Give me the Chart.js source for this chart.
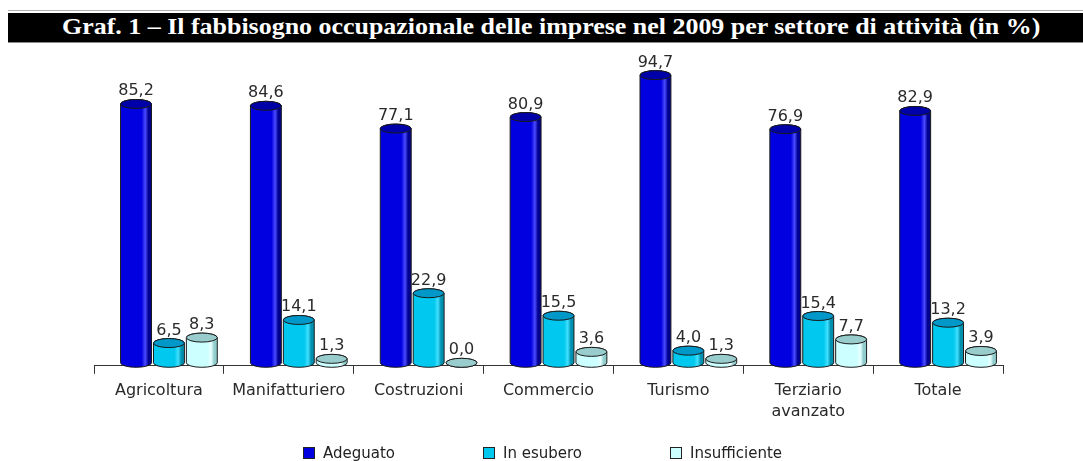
<!DOCTYPE html>
<html>
<head>
<meta charset="utf-8">
<script src="https://cdn.jsdelivr.net/npm/chart.js@4"></script>
<style>
    body { margin: 0; background: #fff; }
    #wrap { position: relative; width: 1083px; height: 461px; overflow: hidden; }
    #titleLine { position: absolute; left: 8px; top: 10px; width: 1080px; height: 1px; background: #b0b0b0; }
    #titleBar { position: absolute; left: 8px; top: 13px; width: 1080px; height: 29px; background: #000; border-bottom: 1px solid #888; }
    #titleText { position: absolute; left: 54px; top: 0px; color: #fff; font: bold 24px 'Liberation Serif'; white-space: nowrap; transform-origin: left center; }
    #legend { position: absolute; left: 303px; top: 444px; display: flex; gap: 88px; font: 15px 'DejaVu Sans'; color: #222; }
    #legend span.box { display: inline-block; width: 10px; height: 10px; border: 1px solid #222; margin-right: 8px; vertical-align: -1px; }
</style>
</head>
<body>
<div id="wrap">
    <canvas id="fabbChart" width="1083" height="461"></canvas>
    <div id="titleLine"></div>
    <div id="titleBar"><span id="titleText">Graf. 1 – Il fabbisogno occupazionale delle imprese nel 2009 per settore di attività (in %)</span></div>
    <div id="legend"></div>
</div>
<script>
const settori = ['Agricoltura', 'Manifatturiero', 'Costruzioni', 'Commercio', 'Turismo', ['Terziario', 'avanzato'], 'Totale'];
const adeguato = [85.2, 84.6, 77.1, 80.9, 94.7, 76.9, 82.9];
const inEsubero = [6.5, 14.1, 22.9, 15.5, 4.0, 15.4, 13.2];
const insufficiente = [8.3, 1.3, 0.0, 3.6, 1.3, 7.7, 3.9];
const serieNomi = ['Adeguato', 'In esubero', 'Insufficiente'];

// colori dei cilindri: corpo, riflesso, bordo scuro, coperchio
const tinte = [
    { body: '#0000e0', light: '#4a4aff', dark: '#000090', top: '#0000a8' },
    { body: '#00c8ee', light: '#40e0ff', dark: '#0090b0', top: '#0098c8' },
    { body: '#ccffff', light: '#e8ffff', dark: '#90cccc', top: '#99cccc' }
];

document.addEventListener('DOMContentLoaded', () => {

    // titolo compresso alla larghezza del riquadro
    const tt = document.getElementById('titleText');
    tt.style.transform = 'scaleX(' + (978 / tt.offsetWidth) + ')';

    const legend = document.getElementById('legend');
    serieNomi.forEach((n, i) => {
        const d = document.createElement('div');
        d.innerHTML = '<span class="box" style="background:' + tinte[i].body + '"></span>' + n;
        legend.appendChild(d);
    });

    const DX = 10, DY = -3, RY = 4.5; // finta profondita 3D

    function cilindro(c, x, top, base, w, t) {
        const l = x - w / 2, r = x + w / 2;
        const g = c.createLinearGradient(l, 0, r, 0);
        g.addColorStop(0, t.body);
        g.addColorStop(0.68, t.body);
        g.addColorStop(0.8, t.light);
        g.addColorStop(0.9, t.dark);
        g.addColorStop(1, t.dark);
        c.beginPath();
        c.moveTo(l, top);
        c.lineTo(l, base);
        c.ellipse(x, base, w / 2, RY, 0, Math.PI, 0, true);
        c.lineTo(r, top);
        c.ellipse(x, top, w / 2, RY, 0, 0, Math.PI, true);
        c.closePath();
        c.fillStyle = g;
        c.fill();
        c.stroke();
        c.beginPath();
        c.ellipse(x, top, w / 2, RY, 0, 0, Math.PI * 2);
        c.fillStyle = t.top;
        c.fill();
        c.stroke();
    }

    const cilindri = {
        id: 'cilindri',
        afterDatasetsDraw(chart) {
            const c = chart.ctx;
            c.save();
            c.lineWidth = 1;
            c.strokeStyle = '#1a1a1a';
            chart.data.datasets.forEach((ds, i) => {
                chart.getDatasetMeta(i).data.forEach((bar, j) => {
                    const x = bar.x + DX, top = bar.y + DY, base = bar.base + DY;
                    cilindro(c, x, top, base, bar.width - 1, tinte[i]);
                    c.fillStyle = '#2a2a2a';
                    c.font = '16px DejaVu Sans';
                    c.textAlign = 'center';
                    c.textBaseline = 'alphabetic';
                    c.fillText(ds.data[j].toFixed(1).replace('.', ','), x, top - RY - 4);
                });
            });
            c.restore();
        }
    };

    const ctx = document.getElementById('fabbChart');
    new Chart(ctx, {
        type: 'bar',
        data: {
            labels: settori,
            datasets: [adeguato, inEsubero, insufficiente].map((v, i) => ({
                label: serieNomi[i],
                data: v,
                backgroundColor: 'rgba(0,0,0,0)',
                borderWidth: 0,
                categoryPercentage: 0.76,
                barPercentage: 0.97
            }))
        },
        options: {
            responsive: false,
            animation: false,
            layout: {
                padding: { left: 94, right: 80, top: 62, bottom: 32 }
            },
            plugins: {
                legend: { display: false },
                tooltip: { enabled: false }
            },
            scales: {
                x: {
                    grid: {
                        offset: true,
                        drawOnChartArea: false,
                        drawTicks: true,
                        tickLength: 8,
                        color: '#333'
                    },
                    border: { display: true, color: '#333' },
                    ticks: {
                        padding: 6,
                        color: '#2a2a2a',
                        maxRotation: 0,
                        font: { family: 'DejaVu Sans', size: 16, lineHeight: 1.35 }
                    }
                },
                y: {
                    display: false,
                    min: 0,
                    max: 100
                }
            }
        },
        plugins: [cilindri]
    });
});
</script>
</body>
</html>
